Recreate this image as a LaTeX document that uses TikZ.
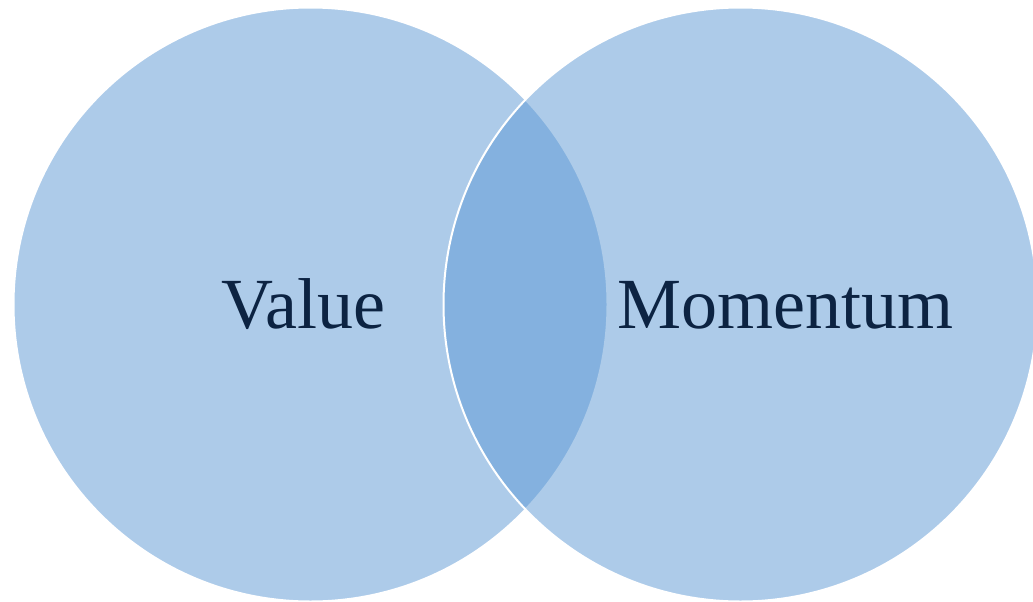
\documentclass[tikz,border=0pt]{standalone}
\usepackage{fontspec}
\setmainfont{Liberation Serif}
\definecolor{vennblue}{RGB}{92,152,212}
\definecolor{navy}{RGB}{12,35,66}
\begin{document}
\begin{tikzpicture}[x=1pt,y=-1pt,
  venn/.style={circle,minimum size=594pt,inner sep=0pt,fill=vennblue,fill opacity=0.5,draw=white,line width=2pt},
  vlabel/.style={text=navy,font=\fontsize{72}{86}\selectfont,anchor=base,inner sep=0pt}]
\useasboundingbox (0,0) rectangle (1033,602);
\node[venn] (left) at (310.5,304.5) {};
\node[venn] (right) at (740.5,304.5) {};
\node[vlabel] (value) at (303,328) {Value};
\node[vlabel] (momentum) at (785,328) {Momentum};
\end{tikzpicture}
\end{document}
